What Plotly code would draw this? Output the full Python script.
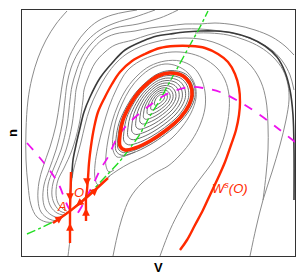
import plotly.graph_objects as go

# ---------------- data (V, n) read from the reference phase portrait ----------------
# gray streamlines, left family (come over the top, down the left, into A)
L1 = [(67,11),(56,24),(46,40),(38,58),(32,78),(28,100),(26,130),(26,160),(28,185),(31,205),(37,217),(46,222),(55,222)]
L2 = [(137,10),(125,12),(112,15),(98,21),(86,31),(76,44),(68,60),(63,80),(60,100),(56,125),(50,147),(43,167),(39,182),(38,200),(41,212),(49,219),(57,221)]
L3 = [(155,10),(135,17),(115,23),(100,30),(88,40),(78,53),(71,68),(67,84),(65,100),(62,125),(56,150),(49,170),(44,185),(43,200),(46,210),(53,216),(60,218)]
L4 = [(178,10),(160,18),(138,24),(115,28),(102,34),(91,44),(82,57),(76,72),(72,86),(70,100),(67,125),(61,150),(53,170),(48,185),(48,198),(51,207),(57,213),(63,215)]
L5 = [(294,55),(285,46),(272,37),(255,30),(235,25),(215,23),(200,24),(185,24),(168,26),(150,28),(135,31),(115,34),(102,40),(92,50),(84,63),(79,78),(76,90),(75,100),(72,125),(66,150),(58,170),(53,183),(52,196),(55,205),(60,211),(65,213)]
L6 = [(294,90),(290,75),(283,62),(273,51),(258,42),(240,35),(220,31),(200,29),(183,29),(165,31),(148,35),(133,40),(115,45),(105,52),(95,63),(88,78),(84,90),(83,100),(79,125),(72,150),(64,168),(58,180),(56,193),(58,203),(63,209),(67,211)]
# dark separatrix-like bundle running into A from above
DARK = [(294,200),(294,150),(293,115),(290,90),(285,72),(277,57),(265,46),(250,38),(233,33),(215,31),(200,31),(185,32),(170,34),(157,36),(143,41),(125,50),(113,62),(100,78),(90,97),(84,112),(80,128),(76,145),(73,160),(72,172),(71,185),(70,200),(70,211)]
# right-hand gray streamlines
D = [(250,256),(256,228),(263,200),(272,172),(280,145),(286,120),(289,100),(288,85),(283,70),(273,57),(260,47),(245,40),(228,35),(210,33),(195,33)]
E = [(263,200),(266,175),(268,150),(268,125),(266,100),(261,82),(252,67),(240,56),(225,47),(213,42),(200,39),(185,38),(170,39),(155,42),(142,46),(128,53),(117,62),(106,76),(97,92),(90,108),(85,125),(81,142),(77,157),(74,168),(72,178)]
C = [(160,256),(170,230),(180,210),(192,190),(203,175),(212,163),(220,148),(226,130),(229,112),(229,95),(225,80),(217,68),(203,58),(188,53),(172,52),(155,55),(140,61),(127,71),(117,88),(109,107),(103,127),(98,147),(95,165),(95,178),(98,185),(104,181),(110,176)]
B = [(113,256),(117,237),(122,218),(130,198),(142,183),(155,173),(168,166),(180,155),(192,140),(200,125),(205,108),(205,92),(201,78),(193,67),(180,61),(165,61),(150,66),(138,75),(127,88),(118,105),(112,122),(108,140),(106,155),(106,166),(109,172),(114,170)]
A_UNST = [(108,177),(118,170),(130,163),(145,156),(160,147),(172,138),(182,127),(191,113),(196,98),(195,85),(188,73),(177,66),(165,64),(152,68),(140,77),(130,89),(122,104),(116,120),(113,136),(113,150),(117,157),(125,156),(135,152)]
BELOW_A = [(68,256),(69,248),(70,240)]
# stable limit cycle (red, thick) and the inner spiral focus
CYCLE = [(170,73),(183,76),(190,84),(192,95),(189,105),(180,118),(165,131),(150,141),(135,148),(125,150),(120,146),(120,135),(123,120),(130,105),(138,93),(148,83),(158,76),(170,73)]
FOCUS = (160, 98)
INNER_SCALES = [0.9, 0.8, 0.7, 0.6, 0.5, 0.41, 0.32, 0.23, 0.14]
OUTER_SCALES = [1.05, 1.1]
# stable manifold of saddle O, W^s(O)
WS = [(180,250),(187,240),(195,225),(203,210),(210,195),(218,178),(225,162),(231,145),(236,130),(239,115),(240,102),(239,88),(235,74),(228,62),(218,54),(205,48),(190,46),(175,46),(160,48),(145,54),(132,61),(120,72),(112,84),(105,97),(98,112),(94,128),(91,146),(89,163),(88,178),(87,190),(86,198),(86,210),(86,221)]
A_VERT = [(71,172),(70,211),(70,243)]
DIAG = [(53,223),(70,211),(86,198),(108,178)]
# nullclines
N_NULL = [(27,234),(53,222),(70,211),(86,197),(107,175),(120,161),(130,148),(140,134),(150,116),(160,100),(168,85),(178,67),(190,45),(200,27),(208,11)]
V_NULL = [(27,143),(40,158),(53,175),(60,187),(65,200),(70,210),(76,214),(82,206),(87,196),(93,185),(100,170),(108,157),(117,138),(127,125),(140,113),(153,103),(165,95),(177,90),(190,87),(203,88),(220,92),(240,102),(260,115),(280,130),(295,142)]
# flow-direction arrows: (tip V, tip n, tail V, tail n)
ARROWS = [(70,201,70,196),(70,223,70,228),(63,216,58,219.5),(76,206,81,202),(87,186,87,181),(86,208,86,213),(98,188,94,191.5)]
LABELS = [("<i>A</i>", 62, 206), ("<i>O</i>", 79, 192), ("<i>W<sup>s</sup>(O)</i>", 230, 188)]

RED = "#ff2a00"
GRAY = "#8c8c8c"

fig = go.Figure()

def add(pts, color, width, dash=None, smooth=True):
    fig.add_trace(go.Scatter(
        x=[p[0] for p in pts], y=[p[1] for p in pts], mode="lines",
        line=dict(color=color, width=width, dash=dash,
                  shape="spline" if smooth else "linear", smoothing=1.0),
        hoverinfo="skip", showlegend=False))

for curve in [L1, L2, L3, L4, L5, L6, D, E, C, B, A_UNST, BELOW_A]:
    add(curve, GRAY, 1)

for s in INNER_SCALES + OUTER_SCALES:
    loop = [(FOCUS[0] + s * (x - FOCUS[0]), FOCUS[1] + s * (y - FOCUS[1])) for x, y in CYCLE]
    add(loop, "#6e6e6e", 1)

add(DARK, "#3a3a3a", 1.6)
add(N_NULL, "#22dd22", 1.4, dash="dashdot")
add(V_NULL, "#ee11ee", 1.8, dash="dash")
add(WS, RED, 2.4)
add(A_VERT, RED, 2.4, smooth=False)
add(DIAG, RED, 2.4)
add(CYCLE, RED, 3.6)

for tx, ty, sx, sy in ARROWS:
    fig.add_annotation(x=tx, y=ty, ax=sx, ay=sy, xref="x", yref="y", axref="x", ayref="y",
                       text="", showarrow=True, arrowhead=2, arrowsize=1.1, arrowwidth=1.4,
                       arrowcolor=RED)

for txt, x, y in LABELS:
    fig.add_annotation(x=x, y=y, xref="x", yref="y", text=txt, showarrow=False,
                       font=dict(family="Liberation Sans, Arial", size=13, color=RED))

fig.add_annotation(x=0.5, y=-0.045, xref="paper", yref="paper", text="<b>V</b>", showarrow=False,
                   font=dict(family="Liberation Sans, Arial", size=13, color="black"), yanchor="middle")
fig.add_annotation(x=-0.037, y=0.5, xref="paper", yref="paper", text="<b>n</b>", showarrow=False,
                   textangle=-90, font=dict(family="Liberation Sans, Arial", size=13, color="black"),
                   xanchor="center")

axis_common = dict(showgrid=False, zeroline=False, showticklabels=False, ticks="",
                   showline=True, mirror=True, linecolor="#333333", linewidth=1)
fig.update_layout(
    width=305, height=277, margin=dict(l=22, r=10, t=10, b=21),
    paper_bgcolor="white", plot_bgcolor="white",
    xaxis=dict(range=[22, 295], **axis_common),
    yaxis=dict(range=[256, 10], **axis_common),
)

fig.write_html("out.html", config={"displayModeBar": False},
               post_script="document.body.style.margin='0px';document.body.style.overflow='hidden';")
